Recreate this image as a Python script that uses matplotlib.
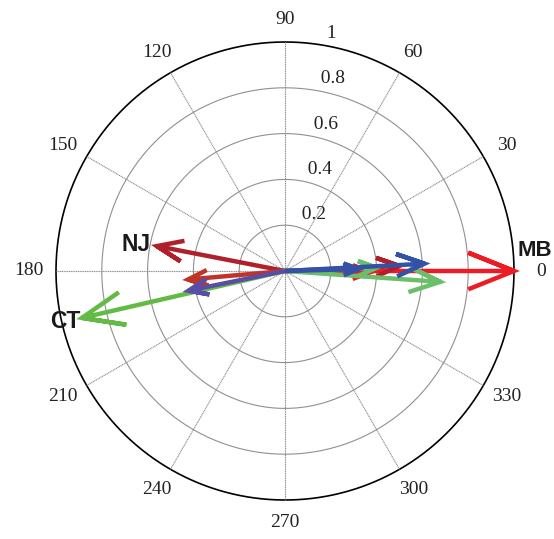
import numpy as np
import matplotlib
matplotlib.use("Agg")
import matplotlib.pyplot as plt

# compass vectors (magnitude, angle in degrees)
mb_mag = [1.0, 0.37]
mb_ang = [0.0, -1.0]
nj_mag = [0.57, 0.50]
nj_ang = [169.0, 2.5]
red2_mag = [0.425]
red2_ang = [185.0]
green_mag = [0.68, 0.40]
green_ang = [-4.0, 2.0]
ct_mag = [0.91]
ct_ang = [193.0]
blue_mag = [0.61, 0.32]
blue_ang = [3.0, 1.5]
purple_mag = [0.43]
purple_ang = [191.5]

ring_ticks = [0.2, 0.4, 0.6, 0.8, 1.0]
ring_labels = ["0.2", "0.4", "0.6", "0.8", "1"]
angle_ticks = [0, 30, 60, 90, 120, 150, 180, 210, 240, 270, 300, 330]

series = [
    (mb_mag, mb_ang, "#ED1C24"),
    (nj_mag, nj_ang, "#B0202A"),
    (red2_mag, red2_ang, "#BE3427"),
    (green_mag, green_ang, "#6CBF6A"),
    (ct_mag, ct_ang, "#63BB45"),
    (blue_mag, blue_ang, "#3451A8"),
    (purple_mag, purple_ang, "#5A4DA6"),
]

W, H = 554, 539
fig = plt.figure(figsize=(W / 100, H / 100), dpi=100)
cx, cy, R = 285, 271, 229
ax = fig.add_axes([(cx - R) / W, (H - cy - R) / H, 2 * R / W, 2 * R / H])
ax.set_xlim(-1, 1)
ax.set_ylim(-1, 1)
ax.axis("off")

serif = "Liberation Serif"
t = np.linspace(0, 2 * np.pi, 200)

# rings
for r in ring_ticks[:-1]:
    ax.plot(r * np.cos(t), r * np.sin(t), color="#909090", lw=0.8, clip_on=False)
ax.plot(np.cos(t), np.sin(t), color="black", lw=1.2, clip_on=False)

# spokes
for a in angle_ticks[:6]:
    th = np.deg2rad(a)
    ax.plot([-np.cos(th), np.cos(th)], [-np.sin(th), np.sin(th)],
            color="#8a8a8a", lw=0.8, ls=(0, (1, 0.6)), clip_on=False)

# angle labels
for a in angle_ticks:
    th = np.deg2rad(a)
    ax.text(1.12 * np.cos(th), 1.1 * np.sin(th), str(a), ha="center", va="center",
            fontsize=14, family=serif, color="#222222")

# radius labels
c82, s82 = np.cos(np.deg2rad(82)), np.sin(np.deg2rad(82))
for r, lab in zip(ring_ticks, ring_labels):
    ax.text((r + 0.01) * c82, (r + 0.01) * s82, "  " + lab, ha="left", va="bottom",
            fontsize=14, family=serif, color="#222222")

# arrows, compass style
shape = np.array([0, 1, 0.8 + 0.08j, 1, 0.8 - 0.08j])
for mags, angs, col in series:
    for m, a in zip(mags, angs):
        z = m * np.exp(1j * np.deg2rad(a)) * shape
        ax.plot(z.real, z.imag, color=col, lw=3.2, solid_joinstyle="miter",
                solid_capstyle="butt", clip_on=False)

# site labels
ax.text(1.015, 0.09, "MB", fontsize=16, fontweight="bold", family="Liberation Sans",
        ha="left", va="center", color="#1a1a1a")
ax.text(-0.65, 0.115, "NJ", fontsize=16.5, fontweight="bold", family="Liberation Sans",
        ha="center", va="center", color="#1a1a1a")
ax.text(-0.96, -0.22, "CT", fontsize=16.5, fontweight="bold", family="Liberation Sans",
        ha="center", va="center", color="#1a1a1a")

fig.savefig("out.png", dpi=100)
